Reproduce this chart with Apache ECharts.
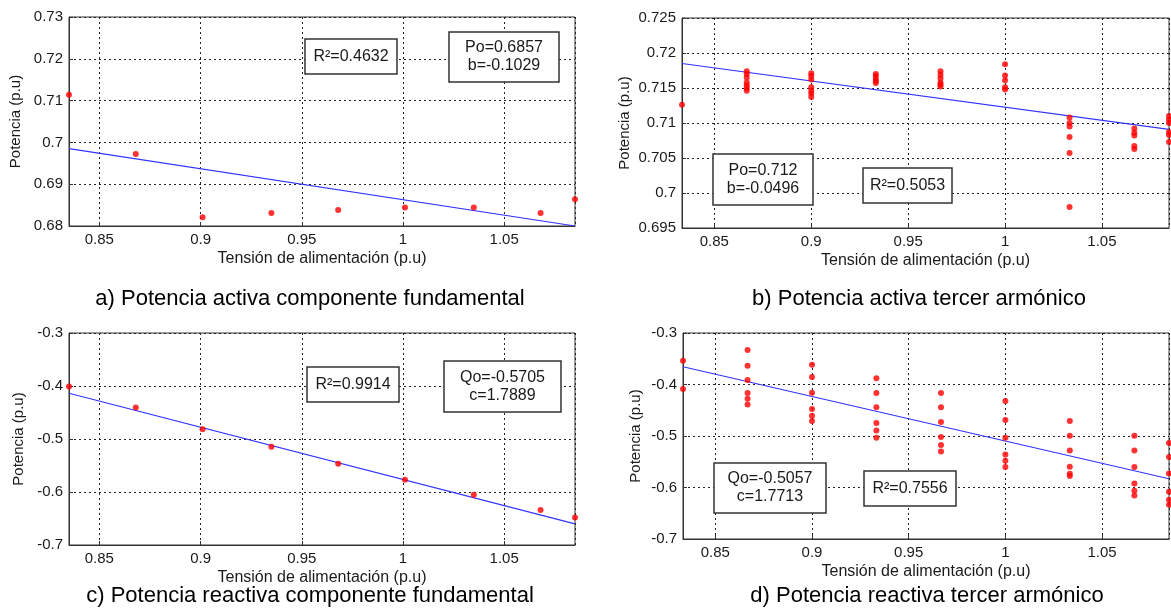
<!DOCTYPE html>
<html>
<head>
<meta charset="utf-8">
<script src="https://cdn.jsdelivr.net/npm/echarts@6/dist/echarts.min.js"></script>
<style>
html,body{margin:0;padding:0;background:#fff;}
#chart{width:1171px;height:609px;}
</style>
</head>
<body>
<div id="chart"></div>
<script>
// ---- DATA ----
const vFund = [0.835, 0.868, 0.901, 0.935, 0.968, 1.001, 1.035, 1.068, 1.085];
const vHarm = [0.8333, 0.8667, 0.9, 0.9333, 0.9667, 1.0, 1.0333, 1.0667, 1.0846];

const potA = [0.7114, 0.6972, 0.6821, 0.6831, 0.6838, 0.6844, 0.6844, 0.6831, 0.6864];
const reacC = [-0.401, -0.4408, -0.4817, -0.5145, -0.5467, -0.5770, -0.6054, -0.6338, -0.6482];

const potB = [
  [0.7126],
  [0.7174, 0.7170, 0.7165, 0.7158, 0.7154, 0.7150, 0.7146],
  [0.7171, 0.7167, 0.7162, 0.7151, 0.7146, 0.7142, 0.7137],
  [0.7170, 0.7167, 0.7163, 0.7160, 0.7157],
  [0.7174, 0.7169, 0.7164, 0.7158, 0.7155, 0.7152],
  [0.7184, 0.7168, 0.7161, 0.7151, 0.7148],
  [0.7108, 0.7100, 0.7095, 0.7080, 0.7057, 0.6980],
  [0.7092, 0.7086, 0.7082, 0.7067, 0.7063],
  [0.7110, 0.7105, 0.7100, 0.7087, 0.7083, 0.7073]
];
const reacD = [
  [-0.3538, -0.4087],
  [-0.333, -0.3635, -0.3913, -0.4165, -0.4276, -0.4386],
  [-0.3616, -0.3855, -0.4160, -0.4476, -0.4606, -0.4709],
  [-0.3881, -0.4165, -0.4444, -0.4748, -0.4891, -0.5033],
  [-0.4165, -0.4444, -0.4729, -0.5020, -0.5175, -0.5299],
  [-0.4320, -0.4689, -0.5033, -0.5357, -0.5480, -0.5602],
  [-0.4709, -0.4994, -0.5280, -0.5596, -0.5732, -0.5777],
  [-0.4994, -0.5280, -0.5602, -0.5920, -0.6062, -0.6153],
  [-0.5136, -0.5408, -0.5726, -0.6081, -0.6237, -0.6334]
];

// fitted curves (end points)
const fitXFund = [0.835, 1.085];
const fitXHarm = [0.8333, 1.0846];
const fitA = [0.6985, 0.6800];
const fitB = [0.7185, 0.7091];
const fitC = [-0.4136, -0.6600];
const fitD = [-0.3655, -0.5830];

const xTicks = [0.85, 0.9, 0.95, 1, 1.05];
const xName = 'Tensión de alimentación (p.u)';
const yName = 'Potencia (p.u)';
const titles = [
  'a) Potencia activa componente fundamental',
  'b) Potencia activa tercer armónico',
  'c) Potencia reactiva componente fundamental',
  'd) Potencia reactiva tercer armónico'
];
const boxes = [
  ['R²=0.4632', 'Po=0.6857\nb=-0.1029'],
  ['Po=0.712\nb=-0.0496', 'R²=0.5053'],
  ['R²=0.9914', 'Qo=-0.5705\nc=1.7889'],
  ['Qo=-0.5057\nc=1.7713', 'R²=0.7556']
];

// ---- BUILD ----
const FONT = '"Liberation Sans", Arial, sans-serif';
const TXT = '#1a1a1a';

const grids = [
  {left: 69, top: 17, width: 506, height: 209},
  {left: 682, top: 18, width: 487, height: 210},
  {left: 69, top: 333, width: 506, height: 212},
  {left: 683, top: 333, width: 486, height: 206}
];
const xRanges = [[0.835, 1.085], [0.8333, 1.0846], [0.835, 1.085], [0.8333, 1.0846]];
const yRanges = [[0.68, 0.73, 0.01], [0.695, 0.725, 0.005], [-0.7, -0.3, 0.1], [-0.7, -0.3, 0.1]];
const yGaps = [46, 50, 43, 40];

function isTick(v) {
  return xTicks.some(t => Math.abs(t - v) < 1e-6);
}

const gridOpts = grids.map(g => Object.assign({
  show: true, borderColor: '#333', borderWidth: 1, backgroundColor: '#fff'
}, g));

const dotted = {show: true, lineStyle: {color: '#222', width: 1, type: [2, 3]}};

const xAxes = [], yAxes = [];
grids.forEach((g, i) => {
  xAxes.push({
    type: 'value', gridIndex: i, min: xRanges[i][0], max: xRanges[i][1],
    splitNumber: 5, minInterval: 0.05, maxInterval: 0.05,
    axisLine: {show: true, lineStyle: {color: '#333', width: 1}},
    axisTick: {show: true, inside: true, length: 4, lineStyle: {color: '#333'}},
    splitLine: dotted,
    axisLabel: {
      color: TXT, fontSize: 15, fontFamily: FONT, margin: 6,
      showMinLabel: false, showMaxLabel: false,
      formatter: v => isTick(v) ? String(+v.toFixed(2)) : ''
    },
    name: xName, nameLocation: 'middle', nameGap: 25,
    nameTextStyle: {color: TXT, fontSize: 16, fontFamily: FONT}
  });
  yAxes.push({
    type: 'value', gridIndex: i, min: yRanges[i][0], max: yRanges[i][1], interval: yRanges[i][2],
    axisLine: {show: true, lineStyle: {color: '#333', width: 1}},
    axisTick: {show: true, inside: true, length: 4, lineStyle: {color: '#333'}},
    splitLine: dotted,
    axisLabel: {color: TXT, fontSize: 15, fontFamily: FONT, margin: 6},
    name: yName, nameLocation: 'middle', nameGap: yGaps[i], nameRotate: 90,
    nameTextStyle: {color: TXT, fontSize: 15, fontFamily: FONT}
  });
});

function flatten(xs, groups) {
  const out = [];
  groups.forEach((arr, k) => arr.forEach(v => out.push([xs[k], v])));
  return out;
}
function pair(xs, ys) { return xs.map((x, k) => [x, ys[k]]); }

const scatterData = [
  pair(vFund, potA),
  flatten(vHarm, potB),
  pair(vFund, reacC),
  flatten(vHarm, reacD)
];
const fitData = [
  pair(fitXFund, fitA), pair(fitXHarm, fitB), pair(fitXFund, fitC), pair(fitXHarm, fitD)
];

const series = [];
for (let i = 0; i < 4; i++) {
  series.push({
    type: 'line', xAxisIndex: i, yAxisIndex: i, data: fitData[i],
    showSymbol: false, symbol: 'none', silent: true, animation: false,
    lineStyle: {color: '#3333ff', width: 1.2}, z: 3
  });
  series.push({
    type: 'scatter', xAxisIndex: i, yAxisIndex: i, data: scatterData[i],
    symbol: 'circle', symbolSize: 6, clip: false, animation: false,
    itemStyle: {color: '#ff0000'}, z: 4
  });
}

// annotation boxes (pixel placement of text boxes)
const boxRects = [
  [[305, 39, 92, 35], [449, 32, 110, 50]],
  [[713, 154, 100, 51], [863, 168, 89, 35]],
  [[307, 367, 92, 35], [444, 361, 117, 51]],
  [[714, 463, 112, 50], [864, 471, 92, 35]]
];
const graphic = [];
boxRects.forEach((pair2, i) => {
  pair2.forEach((r, j) => {
    graphic.push({
      type: 'rect', shape: {x: r[0], y: r[1], width: r[2], height: r[3]},
      style: {fill: '#fff', stroke: '#333', lineWidth: 1.5}, z: 100
    });
    graphic.push({
      type: 'text', x: r[0] + r[2] / 2, y: r[1] + r[3] / 2, z: 101,
      style: {text: boxes[i][j], fill: TXT, font: '16px ' + FONT,
        textAlign: 'center', textVerticalAlign: 'middle', lineHeight: 18}
    });
  });
});
const titlePos = [[310, 299], [919, 299], [310, 596], [927, 596]];
titles.forEach((t, i) => {
  graphic.push({
    type: 'text', x: titlePos[i][0], y: titlePos[i][1], z: 100,
    style: {text: t, fill: '#000', font: '22px ' + FONT, textAlign: 'center', textVerticalAlign: 'middle'}
  });
});

const chart = echarts.init(document.getElementById('chart'), null, {renderer: 'canvas'});
chart.setOption({
  animation: false,
  backgroundColor: '#fff',
  grid: gridOpts,
  xAxis: xAxes,
  yAxis: yAxes,
  series: series,
  graphic: graphic
});
</script>
</body>
</html>
